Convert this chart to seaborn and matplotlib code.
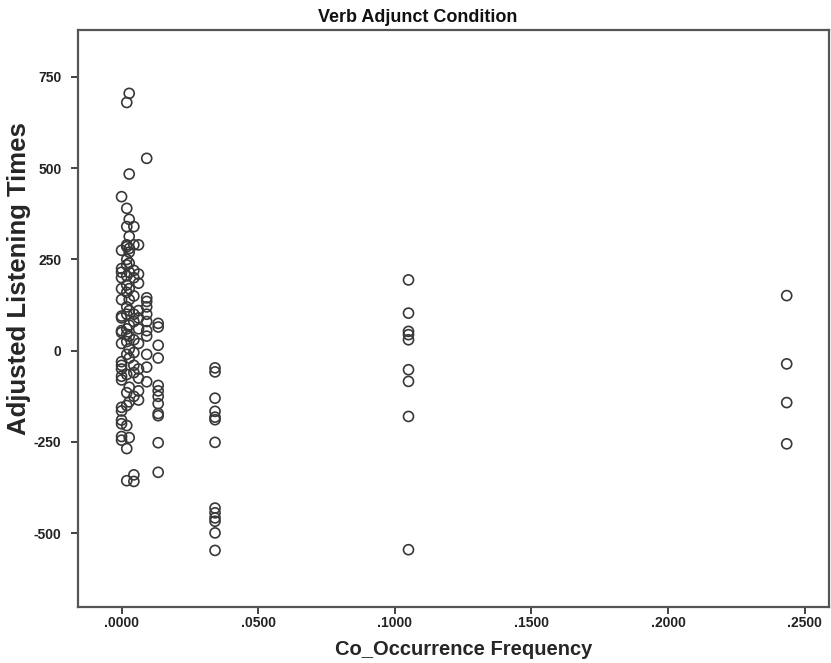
import pandas as pd
import seaborn as sns
import matplotlib.pyplot as plt

# Co-occurrence frequency groups and the listening times
x_groups = [0.0000, 0.0019, 0.0028, 0.0045, 0.0062, 0.0092, 0.0134, 0.0342, 0.1050, 0.2434]

times_0 = [422, 275, 225, 215, 200, 170, 140, 95, 90, 55, 50, 20, -30, -40, -50, -70, -80,
           -155, -165, -190, -200, -235, -245]
times_1 = [680, 390, 340, 290, 285, 250, 235, 205, 180, 160, 120, 100, 60, 45, 25, -10, -65,
           -115, -150, -205, -268, -356]
times_2 = [705, 484, 360, 313, 280, 270, 240, 215, 170, 140, 110, 70, 40, 5, -20, -100, -140, -238]
times_3 = [340, 290, 220, 200, 150, 100, 80, 30, -5, -40, -60, -125, -340, -358]
times_4 = [290, 210, 185, 110, 90, 60, 20, -50, -75, -110, -135]
times_5 = [527, 145, 135, 120, 100, 80, 55, 40, -10, -45, -85]
times_6 = [75, 65, 15, -20, -95, -110, -125, -145, -172, -178, -252, -333]
times_7 = [-47, -58, -130, -166, -182, -189, -251, -431, -444, -458, -467, -499, -547]
times_8 = [194, 103, 53, 44, 30, -52, -84, -180, -545]
times_9 = [151, -36, -142, -255]

all_times = [times_0, times_1, times_2, times_3, times_4, times_5, times_6, times_7, times_8, times_9]

x_ticks = [0.0, 0.05, 0.10, 0.15, 0.20, 0.25]
x_tick_labels = ['.0000', '.0500', '.1000', '.1500', '.2000', '.2500']
y_ticks = [-500, -250, 0, 250, 500, 750]

rows = []
for xv, ts in zip(x_groups, all_times):
    for t in ts:
        rows.append({'Co_Occurrence Frequency': xv, 'Adjusted Listening Times': t})
df = pd.DataFrame(rows)

sns.set_style('white')
plt.rcParams['font.family'] = ['Liberation Sans', 'DejaVu Sans']
plt.rcParams['axes.unicode_minus'] = False

fig = plt.figure(figsize=(8.31, 6.63), dpi=100)
ax = fig.add_axes([0.094, 0.085, 0.904, 0.870])

sns.scatterplot(data=df, x='Co_Occurrence Frequency', y='Adjusted Listening Times', ax=ax,
                marker='o', s=52, facecolors='none', edgecolor='#383838', linewidth=1.2)

ax.set_xlim(-0.0159, 0.259)
ax.set_ylim(-701, 879)
ax.set_xticks(x_ticks)
ax.set_xticklabels(x_tick_labels)
ax.set_yticks(y_ticks)

ax.tick_params(axis='both', direction='out', length=5, width=1.2, color='#222222',
               labelsize=10, bottom=True, left=True)
ax.tick_params(axis='x', pad=2)
ax.tick_params(axis='y', pad=7)
for lab in ax.get_xticklabels() + ax.get_yticklabels():
    lab.set_fontweight('bold')
    lab.set_color('#222222')

for sp in ax.spines.values():
    sp.set_color('#555555')
    sp.set_linewidth(1.6)

ax.set_xlabel('Co_Occurrence Frequency', fontsize=14.5, fontweight='bold')
ax.set_ylabel('Adjusted Listening Times', fontsize=18.5, fontweight='bold')
ax.xaxis.set_label_coords(0.513, -0.057)
ax.yaxis.set_label_coords(-0.063, 0.568)
fig.text(0.503, 0.974, 'Verb Adjunct Condition', fontsize=13, fontweight='bold',
         ha='center', va='center', color='#111111')

fig.savefig('out.png', dpi=100)
